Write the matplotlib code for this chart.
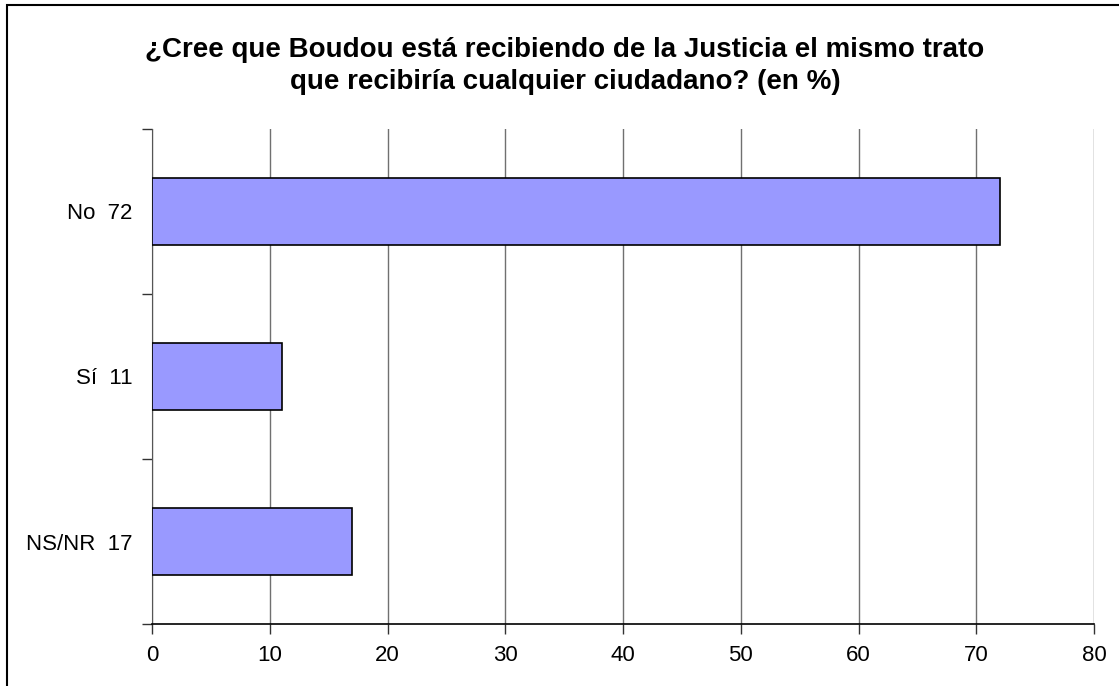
import matplotlib.pyplot as plt
from matplotlib.patches import Rectangle

plt.rcParams['font.family'] = ['Liberation Sans', 'DejaVu Sans']

categories = ['No', 'Sí', 'NS/NR']
values = [72, 11, 17]
labels = [f'{c}  {v}' for c, v in zip(categories, values)]
title = '¿Cree que Boudou está recibiendo de la Justicia el mismo trato\nque recibiría cualquier ciudadano? (en %)'

W, H = 1119, 686
fig = plt.figure(figsize=(W / 100, H / 100), dpi=100)
ax = fig.add_axes([152 / W, (H - 624) / H, (1094 - 152) / W, (624 - 129) / H])

pos = list(range(len(categories)))
ax.barh(pos, values, height=0.41, color='#9999FF', edgecolor='black', linewidth=1.2, zorder=3)
ax.set_ylim(len(categories) - 0.5, -0.5)
ax.set_xlim(0, 80)
ax.set_xticks(range(0, 81, 10))
ax.set_yticks(pos)
ax.set_yticklabels(labels)
ax.set_yticks([-0.5, 0.5, 1.5, 2.5], minor=True)
ax.tick_params(axis='y', which='major', length=0, pad=14, labelsize=16)
ax.tick_params(axis='y', which='minor', length=7, width=1, color='#333333')
ax.tick_params(axis='x', length=7, width=1, labelsize=16, pad=8, color='#333333')
ax.xaxis.grid(True, color='#707070', linewidth=1, zorder=0)
for s in ['top', 'right']:
    ax.spines[s].set_visible(False)
ax.spines['left'].set_color('#555555')
ax.spines['bottom'].set_linewidth(1.2)

fig.text(565 / W, 1 - 66 / H, title, ha='center', va='center', fontsize=20,
         fontweight='bold', linespacing=1.3)

fig.patches.append(Rectangle((7 / W, -0.05), 1.0, 1 - 5 / H + 0.05,
                             transform=fig.transFigure, fill=False,
                             edgecolor='black', linewidth=1.5))

fig.savefig('out.png', dpi=100)
